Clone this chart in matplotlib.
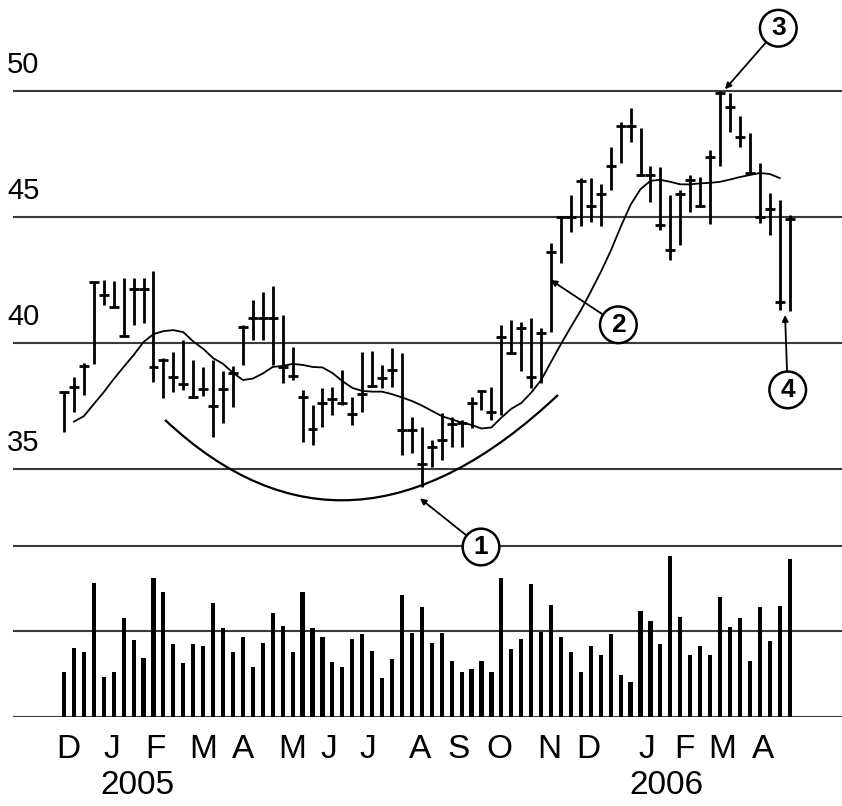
import matplotlib
matplotlib.use("Agg")
import matplotlib.pyplot as plt
from matplotlib.path import Path
from matplotlib.patches import PathPatch
from matplotlib.transforms import blended_transform_factory

# Weekly price bars (high / low / close), Dec 2004 - Apr 2006
high = [38.05, 38.67, 39.22, 42.41, 42.52, 42.45, 42.60, 42.60, 42.60, 42.85,
        39.42, 39.67, 40.13, 39.34, 39.07, 39.34, 38.88, 39.10, 40.74, 41.73,
        42.05, 42.25, 41.12, 39.87, 38.15, 37.55, 38.21, 38.25, 38.92, 37.86,
        39.67, 39.71, 39.14, 39.80, 39.60, 37.06, 36.67, 36.16, 37.22, 37.08,
        36.96, 37.86, 38.12, 38.28, 40.73, 40.92, 40.86, 41.00, 40.59, 43.96,
        45.02, 45.88, 46.54, 46.54, 46.32, 47.80, 48.79, 49.32, 48.53, 47.02,
        46.97, 45.88, 46.07, 46.67, 46.60, 47.66, 50.00, 49.91, 49.01, 48.35,
        47.13, 45.95, 45.68, 45.09]
low = [36.49, 37.29, 37.95, 39.18, 41.52, 41.42, 40.29, 40.73, 40.82, 38.47,
       37.83, 38.08, 38.15, 37.82, 37.91, 36.30, 36.83, 37.48, 39.14, 40.13,
       40.13, 39.14, 38.42, 38.54, 36.09, 35.97, 36.69, 37.15, 37.55, 36.76,
       37.29, 38.31, 38.21, 38.28, 35.56, 35.66, 34.31, 35.11, 35.37, 35.88,
       35.90, 36.62, 37.36, 36.96, 37.15, 39.60, 38.88, 38.21, 38.42, 40.46,
       43.17, 44.42, 44.63, 44.82, 44.63, 46.07, 47.13, 47.99, 46.67, 45.61,
       44.49, 43.30, 43.90, 45.21, 45.45, 44.73, 47.01, 48.39, 47.80, 46.74,
       44.75, 44.29, 41.32, 41.26]
close = [38.05, 38.25, 39.10, 42.41, 41.91, 41.42, 40.29, 42.15, 42.15, 39.07,
         39.34, 38.67, 38.39, 37.86, 38.17, 37.52, 38.17, 38.81, 40.66, 41.00,
         41.00, 41.00, 39.07, 38.70, 37.87, 36.58, 37.64, 37.78, 37.64, 37.19,
         37.98, 38.31, 38.61, 38.92, 36.54, 36.54, 35.21, 35.90, 36.16, 36.80,
         36.85, 37.62, 38.12, 37.29, 40.26, 39.63, 40.59, 38.67, 40.39, 43.63,
         45.02, 45.02, 46.45, 45.45, 45.91, 47.02, 48.60, 48.60, 46.67, 46.67,
         44.69, 43.70, 45.92, 46.48, 45.45, 47.38, 49.91, 49.36, 48.17, 46.76,
         45.00, 45.31, 41.65, 44.92]

# Moving average, first value belongs to the second week
moving_avg = [36.89, 37.11, 37.59, 38.06, 38.58, 39.06, 39.53, 40.05, 40.36,
              40.48, 40.52, 40.44, 40.07, 39.78, 39.41, 39.18, 38.83, 38.54,
              38.60, 38.80, 39.06, 39.10, 39.18, 39.14, 39.06, 39.04, 38.82,
              38.50, 38.23, 38.11, 38.08, 38.08, 37.98, 37.85, 37.71, 37.53,
              37.32, 37.11, 36.98, 36.86, 36.76, 36.62, 36.66, 37.05, 37.40,
              37.63, 38.04, 38.54, 39.26, 39.97, 40.65, 41.31, 42.05, 42.82,
              43.66, 44.61, 45.49, 46.11, 46.44, 46.48, 46.40, 46.30, 46.30,
              46.34, 46.36, 46.40, 46.49, 46.59, 46.67, 46.75, 46.71, 46.55]

# Weekly volume (relative units, grid line at 1 and 2)
volume = [0.53, 0.81, 0.76, 1.57, 0.47, 0.53, 1.16, 0.90, 0.69, 1.62,
          1.46, 0.85, 0.63, 0.85, 0.83, 1.33, 1.04, 0.76, 0.93, 0.58,
          0.86, 1.22, 1.07, 0.76, 1.46, 1.04, 0.93, 0.64, 0.58, 0.91,
          0.97, 0.77, 0.46, 0.68, 1.43, 0.98, 1.29, 0.86, 0.98, 0.65,
          0.53, 0.56, 0.65, 0.53, 1.63, 0.79, 0.91, 1.56, 0.99, 1.31,
          0.93, 0.76, 0.53, 0.83, 0.73, 0.97, 0.49, 0.41, 1.24, 1.12,
          0.85, 1.88, 1.17, 0.72, 0.83, 0.73, 1.40, 1.05, 1.16, 0.66,
          1.29, 0.89, 1.30, 1.85]

months = ["D", "J", "F", "M", "A", "M", "J", "J", "A", "S", "O", "N", "D",
          "J", "F", "M", "A"]
month_pos = [0.47, 4.80, 9.22, 13.98, 17.98, 23.0, 26.63, 30.57, 35.86,
             39.74, 43.81, 48.78, 52.72, 58.65, 62.44, 66.23, 70.28]
years = ["2005", "2006"]
year_pos = [7.4, 60.6]

price_levels = [35, 40, 45, 50]
volume_levels = [0, 1, 2]

# Callouts: number, circle centre (week, price), arrow tip (week, price)
callouts = [
    ("1", (41.95, 31.92), (35.81, 33.85)),
    ("2", (55.77, 40.73), (48.96, 42.51)),
    ("3", (71.86, 52.49), (66.50, 50.07)),
    ("4", (72.81, 38.15), (72.54, 41.12)),
]
# Rounding-bottom arc (quadratic curve: start, control, end)
arc_pts = [(10.16, 36.96), (28.62, 30.12), (49.70, 37.95)]

W, H, DPI = 842, 806, 100
XLIM = (-6.44, 78.27)
LINE_START = 14 / W
GRID_COLOR = "#3a3a3a"
LABEL_FONT = ["Liberation Sans", "DejaVu Sans"]

fig = plt.figure(figsize=(W / DPI, H / DPI), dpi=DPI, facecolor="white")

# Volume panel
axv = fig.add_axes([0, (H - 717) / H, 1, (717 - 540) / H])
axv.set_xlim(*XLIM)
axv.set_ylim(0, 2.07)
axv.axis("off")
for lv in volume_levels:
    axv.axhline(lv, xmin=LINE_START, color=GRID_COLOR, lw=1.5, zorder=1)
weeks = list(range(len(volume)))
axv.bar(weeks, volume, width=0.42, color="black", zorder=2)

# Price panel (covers the whole figure so callouts share its coordinates)
ax = fig.add_axes([0, 0, 1, 1])
ax.patch.set_alpha(0)
ax.set_xlim(*XLIM)
ax.set_ylim(21.65, 53.61)
ax.axis("off")

for lv in price_levels:
    ax.axhline(lv, xmin=LINE_START, color=GRID_COLOR, lw=1.5, zorder=1)
    ax.annotate(str(lv), xy=(0, lv), xycoords=("axes fraction", "data"),
                xytext=(7, 12), textcoords="offset pixels",
                ha="left", va="bottom", fontsize=21, family=LABEL_FONT)

x = list(range(len(high)))
ax.vlines(x, low, high, color="black", lw=2.0, zorder=3)
ax.hlines(close, [v - 0.5 for v in x], [v + 0.5 for v in x],
          color="black", lw=2.0, zorder=3)

ax.plot(x[1:1 + len(moving_avg)], moving_avg, color="black", lw=1.3, zorder=4)

arc = PathPatch(Path(arc_pts, [Path.MOVETO, Path.CURVE3, Path.CURVE3]),
                fill=False, ec="black", lw=1.6, zorder=4)
ax.add_patch(arc)

for num, centre, tip in callouts:
    ax.annotate(num, xy=tip, xytext=centre, ha="center", va="center",
                fontsize=19, fontweight="bold", family=["Liberation Sans"],
                bbox=dict(boxstyle="circle,pad=0.24", fc="white", ec="black",
                          lw=1.8),
                arrowprops=dict(arrowstyle="-|>", color="black", lw=1.3,
                                mutation_scale=9, shrinkA=0, shrinkB=0),
                zorder=6)

trans = blended_transform_factory(ax.transData, fig.transFigure)
for m, pos in zip(months, month_pos):
    ax.text(pos, 1 - 749 / H, m, transform=trans, ha="center", va="center",
            fontsize=24, family=LABEL_FONT)
for yr, pos in zip(years, year_pos):
    ax.text(pos, 1 - 786 / H, yr, transform=trans, ha="center", va="center",
            fontsize=24, family=LABEL_FONT)

fig.savefig("out.png", dpi=DPI, facecolor="white")
